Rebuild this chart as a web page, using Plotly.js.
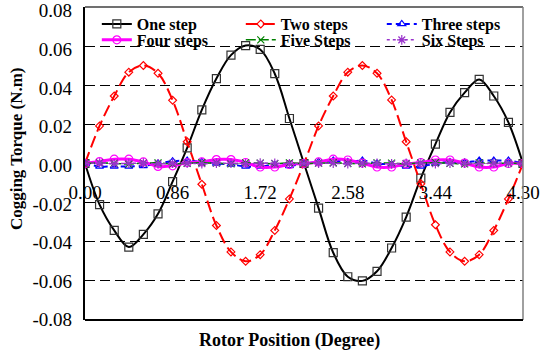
<!DOCTYPE html>
<html><head><meta charset="utf-8">
<script src="https://cdn.plot.ly/plotly-3.0.1.min.js"></script>
<style>html,body{margin:0;padding:0;background:#fff}#chart{width:542px;height:358px}</style>
</head><body><div id="chart"></div>
<script>
const rotorPos = [0, 0.143, 0.287, 0.43, 0.573, 0.717, 0.86, 1.003, 1.147, 1.29, 1.433, 1.577, 1.72, 1.863, 2.007, 2.15, 2.293, 2.437, 2.58, 2.723, 2.867, 3.01, 3.153, 3.297, 3.44, 3.583, 3.727, 3.87, 4.013, 4.157, 4.3];
const oneStep = [0, -0.021, -0.0342, -0.0427, -0.0362, -0.0257, -0.0093, 0.008, 0.0274, 0.0434, 0.0554, 0.0603, 0.0583, 0.0459, 0.023, 0.0, -0.0228, -0.0456, -0.0579, -0.06, -0.0551, -0.0432, -0.0274, -0.0075, 0.0099, 0.0261, 0.0362, 0.043, 0.0345, 0.021, 0];
const twoSteps = [0, 0.0192, 0.0345, 0.0467, 0.0501, 0.0461, 0.0323, 0.0111, -0.0106, -0.0317, -0.0452, -0.05, -0.0466, -0.0342, -0.0181, 0, 0.0192, 0.0345, 0.0467, 0.0501, 0.0461, 0.0325, 0.0111, -0.0104, -0.0313, -0.0452, -0.05, -0.0466, -0.0342, -0.0181, 0];
const threeSteps = [0, -0.0015, -0.0015, -0.0015, -0.0012, 0, 0.0012, 0.0015, 0.0008, 0, -0.0005, -0.0015, -0.0015, -0.0008, -0.0012, 0, 0.0008, 0.0015, 0.0008, 0.0015, 0, -0.0005, -0.0015, -0.0015, 0, 0.0008, 0.0005, 0.0015, 0.0015, 0.0015, 0];
const fourSteps = [0, 0.001, 0.0022, 0.0022, 0.0008, -0.0015, -0.0012, 0.0005, 0.0008, 0.002, 0.002, 0.0005, -0.0018, -0.0018, -0.0005, 0, 0.0008, 0.0022, 0.0018, 0.0002, -0.0018, -0.0018, -0.0002, 0.0005, 0.0018, 0.0018, 0.0002, -0.0018, -0.0018, 0, 0];
const fiveSteps = [0, 0.0003, 0.0001, -0.0003, 0.0002, 0.0003, -0.0002, 0.0001, 0.0004, 0.0002, -0.0002, 0.0003, 0.0002, -0.0001, 0.0003, 0, 0.0002, 0.0004, 0.0001, -0.0002, 0.0003, 0.0002, -0.0001, 0.0003, 0.0004, 0.0001, -0.0002, 0.0003, 0.0002, 0.0001, 0];
const sixSteps = [0, 0.0002, -0.0001, 0.0001, 0.0002, -0.0002, 0.0001, 0.0002, -0.0001, 0.0002, 0.0001, -0.0001, 0.0002, 0.0001, -0.0001, 0, 0.0002, 0.0001, -0.0001, 0.0002, 0.0001, -0.0002, 0.0001, 0.0002, -0.0001, 0.0002, 0.0001, -0.0001, 0.0002, 0.0001, 0];
const seriesNames = ["One step", "Two steps", "Three steps", "Four steps", "Five Steps", "Six Steps"];
const xTickVals = [0, 0.86, 1.72, 2.58, 3.44, 4.3];
const xTickText = ["0.00", "0.86", "1.72", "2.58", "3.44", "4.30"];
const yTickVals = [-0.08, -0.06, -0.04, -0.02, 0, 0.02, 0.04, 0.06, 0.08];
const yTickText = ["-0.08", "-0.06", "-0.04", "-0.02", "0.00", "0.02", "0.04", "0.06", "0.08"];

const serif = "'Liberation Serif', 'Times New Roman', serif";
function tr(y, name, color, width, dash, symbol, msize, mcolor, leg) {
  return {x: rotorPos, y: y, name: name, type: 'scatter', mode: 'lines+markers', legend: leg,
    line: {color: color, width: width, dash: dash, shape: 'spline'},
    marker: {symbol: symbol, size: msize, color: mcolor || color, line: {color: mcolor || color, width: 1.2}}};
}
const data = [
  tr(oneStep, seriesNames[0], '#000000', 2, 'solid', 'square-open', 8, '#333333', 'legend'),
  tr(twoSteps, seriesNames[1], '#FF0000', 2, '12px,5px', 'diamond-open', 6, null, 'legend2'),
  tr(threeSteps, seriesNames[2], '#0000FF', 2, '5px,4px', 'triangle-up-open', 7, null, 'legend3'),
  tr(fourSteps, seriesNames[3], '#FF00FF', 3, 'solid', 'circle-open', 8, null, 'legend4'),
  tr(fiveSteps, seriesNames[4], '#008000', 1.5, '10px,3px', 'x-thin-open', 7, null, 'legend5'),
  tr(sixSteps, seriesNames[5], '#9933CC', 1.5, 'dot', 'asterisk-open', 8, null, 'legend6'),
  {x: [rotorPos[0]], y: [null], xaxis: 'x', yaxis: 'y2', type: 'scatter', mode: 'markers', showlegend: false, hoverinfo: 'skip'}
];
const legFont = {family: serif, size: 16, weight: 'bold', color: '#000'};
const tickFont = {family: serif, size: 19, color: '#000'};
function leg(x, y) {
  return {orientation: 'h', x: x, xanchor: 'left', y: y, yanchor: 'top',
    bgcolor: 'rgba(0,0,0,0)', font: legFont, itemwidth: 30};
}
const layout = {
  width: 542, height: 358,
  margin: {l: 85, r: 19, t: 7, b: 38},
  paper_bgcolor: '#fff', plot_bgcolor: '#fff',
  font: {family: serif, color: '#000'},
  showlegend: true,
  legend: leg(0.027, 1), legend2: leg(0.3557, 1), legend3: leg(0.6776, 1),
  legend4: leg(0.027, 0.949), legend5: leg(0.3557, 0.949), legend6: leg(0.6776, 0.949),
  xaxis: {range: [0, 4.3], tickvals: xTickVals, ticktext: xTickText, anchor: 'free', position: 0.45,
    showgrid: false, zeroline: false, showline: false, ticks: '', tickfont: tickFont},
  yaxis: {range: [-0.08, 0.08], tickvals: yTickVals, showticklabels: false,
    showgrid: true, gridcolor: '#000', griddash: '10px,5px', gridwidth: 1,
    zeroline: true, zerolinecolor: '#999', zerolinewidth: 1,
    showline: true, linecolor: '#000', linewidth: 2.5, ticks: ''},
  yaxis2: {range: [-0.0801, 0.0819], tickvals: yTickVals, ticktext: yTickText, overlaying: 'y', side: 'left', anchor: 'x',
    showgrid: false, zeroline: false, showline: false, ticks: '', ticklabelstandoff: 12,
    ticklabeloverflow: 'allow', tickfont: tickFont},
  shapes: [
    {type: 'line', xref: 'paper', yref: 'paper', x0: 0, x1: 1, y0: 1, y1: 1, line: {color: '#404040', width: 1.5}},
    {type: 'line', xref: 'paper', yref: 'paper', x0: 1, x1: 1, y0: 0, y1: 1, line: {color: '#808080', width: 1.5}},
    {type: 'line', xref: 'paper', yref: 'paper', x0: 0, x1: 1, y0: 0, y1: 0, line: {color: '#000', width: 2}}
  ],
  annotations: [
    {text: 'Cogging Torque (N.m)', xref: 'paper', yref: 'paper', x: -0.1575, y: 0.546, xanchor: 'center', yanchor: 'middle',
      textangle: -90, showarrow: false, font: {family: serif, size: 17, weight: 'bold', color: '#000'}},
    {text: 'Rotor Position (Degree)', xref: 'paper', yref: 'paper', x: 0.468, y: -0.064, xanchor: 'center', yanchor: 'middle',
      showarrow: false, font: {family: serif, size: 18, weight: 'bold', color: '#000'}}
  ]
};
Plotly.newPlot('chart', data, layout, {staticPlot: true});
</script></body></html>
